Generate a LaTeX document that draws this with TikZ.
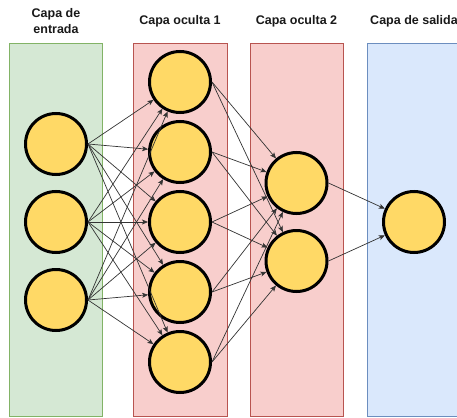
\documentclass[tikz,border=0pt]{standalone}
\usepackage{fontspec}
\setmainfont{Liberation Sans}
\usetikzlibrary{arrows.meta}
\definecolor{gfill}{HTML}{D5E8D4}\definecolor{gline}{HTML}{82B366}
\definecolor{rfill}{HTML}{F8CECC}\definecolor{rline}{HTML}{B85450}
\definecolor{bfill}{HTML}{DAE8FC}\definecolor{bline}{HTML}{6C8EBF}
\definecolor{neuron}{HTML}{FFD966}
\begin{document}
\begin{tikzpicture}[x=1pt,y=-1pt,
  layer/.style={line width=0.8pt},
  neu/.style={circle,draw=black,fill=neuron,line width=3pt,minimum size=61pt,inner sep=0pt},
  lbl/.style={font=\fontsize{12.5}{16}\selectfont\bfseries,align=center,text=black!90},
  conn/.style={draw=black!80,line width=0.7pt,-{Stealth[length=6pt,width=5pt,inset=1.5pt]}}]
\useasboundingbox (0,0) rectangle (457,417);
% layers
\filldraw[layer,fill=gfill,draw=gline] (9,43.5) rectangle (102,416);
\filldraw[layer,fill=rfill,draw=rline] (133,43.5) rectangle (227,416);
\filldraw[layer,fill=rfill,draw=rline] (250,43.5) rectangle (343,416);
\filldraw[layer,fill=bfill,draw=bline] (367,43.5) rectangle (490,416);
% labels
\node[lbl] (l1) at (56,21) {Capa de\\entrada};
\node[lbl] (l2) at (180,21) {Capa oculta 1};
\node[lbl] (l3) at (296.5,21) {Capa oculta 2};
\node[lbl] (l4) at (414,21) {Capa de salida};
% neurons
\node[neu] (i1) at (56,144) {};
\node[neu] (i2) at (56,222) {};
\node[neu] (i3) at (56,300) {};
\node[neu] (h1) at (180,82) {};
\node[neu] (h2) at (180,152) {};
\node[neu] (h3) at (180,222) {};
\node[neu] (h4) at (180,292) {};
\node[neu] (h5) at (180,362) {};
\node[neu] (k1) at (296.5,183) {};
\node[neu] (k2) at (296.5,261) {};
\node[neu] (o1) at (414,222) {};
% connections
\foreach \s in {i1,i2,i3}
  \foreach \t in {h1,h2,h3,h4,h5}
    \draw[conn] (\s.east) -- (\t);
\foreach \s in {h1,h2,h3,h4,h5}
  \foreach \t in {k1,k2}
    \draw[conn] (\s.east) -- (\t);
\foreach \s in {k1,k2}
  \draw[conn] (\s.east) -- (o1);
\end{tikzpicture}
\end{document}
